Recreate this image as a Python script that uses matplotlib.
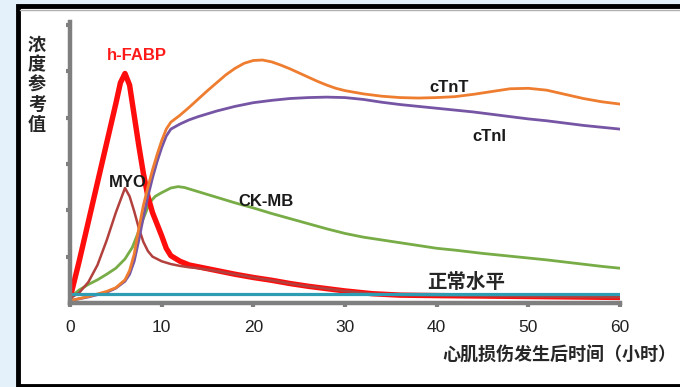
import matplotlib
matplotlib.use('Agg')
import matplotlib.pyplot as plt
from matplotlib.patches import Rectangle

plt.rcParams['font.family'] = ['Liberation Sans', 'Noto Sans CJK SC', 'DejaVu Sans']

# time in hours and relative concentration
fabp_x = [0, 1, 2, 3, 4, 5, 5.5, 6, 6.5, 7, 7.5, 8, 8.5, 9, 9.5, 10, 10.5, 11, 12, 13, 14, 16, 18, 20, 22, 24, 26, 28, 30, 33, 36, 40, 50, 60]
fabp_y = [0.1, 0.9, 1.75, 2.6, 3.45, 4.3, 4.75, 4.95, 4.7, 4.05, 3.4, 2.8, 2.3, 1.95, 1.7, 1.45, 1.18, 1.02, 0.9, 0.82, 0.78, 0.7, 0.62, 0.55, 0.49, 0.42, 0.36, 0.31, 0.26, 0.2, 0.17, 0.16, 0.14, 0.12]

myo_x = [0, 1, 2, 3, 4, 5, 6, 6.5, 7, 7.5, 8, 8.5, 9, 10, 11, 12, 13, 14, 16, 18, 20, 22, 24, 26, 28, 30, 33, 36, 40, 50, 60]
myo_y = [0.1, 0.22, 0.45, 0.82, 1.35, 1.95, 2.48, 2.3, 1.98, 1.62, 1.32, 1.12, 1.0, 0.9, 0.84, 0.8, 0.77, 0.75, 0.69, 0.62, 0.55, 0.49, 0.42, 0.36, 0.31, 0.26, 0.2, 0.17, 0.16, 0.14, 0.12]

ckmb_x = [0, 1, 2, 3, 4, 5, 6, 6.8, 7.5, 8, 8.7, 9.3, 10, 11, 11.8, 12.5, 14, 16, 18, 20, 22, 24, 26, 28, 30, 32, 34, 36, 38, 40, 42, 45, 48, 50, 52, 55, 58, 60]
ckmb_y = [0.12, 0.28, 0.4, 0.5, 0.62, 0.75, 0.95, 1.2, 1.55, 1.82, 2.17, 2.3, 2.38, 2.48, 2.51, 2.49, 2.4, 2.28, 2.16, 2.05, 1.93, 1.82, 1.71, 1.6, 1.5, 1.42, 1.36, 1.3, 1.24, 1.18, 1.14, 1.07, 1.01, 0.97, 0.93, 0.86, 0.79, 0.75]

ctnt_x = [0, 2, 4, 5, 6, 6.5, 7, 7.5, 8, 8.5, 9, 9.5, 10, 10.5, 11, 12, 13, 14, 15, 16, 17, 18, 19, 20, 21, 22, 23, 24, 25, 26, 27, 28, 29, 30, 32, 34, 36, 38, 40, 42, 44, 46, 48, 50, 52, 54, 56, 58, 60]
ctnt_y = [0.05, 0.14, 0.25, 0.33, 0.5, 0.7, 1.05, 1.6, 2.1, 2.5, 2.87, 3.2, 3.5, 3.75, 3.9, 4.05, 4.22, 4.4, 4.58, 4.75, 4.92, 5.06, 5.17, 5.23, 5.24, 5.2, 5.13, 5.05, 4.96, 4.87, 4.78, 4.7, 4.63, 4.58, 4.51, 4.46, 4.43, 4.42, 4.43, 4.45, 4.5, 4.56, 4.62, 4.63, 4.59, 4.5, 4.41, 4.34, 4.29]

ctni_x = [0, 2, 4, 5, 6, 6.5, 7, 7.5, 8, 8.5, 9, 9.5, 10, 10.5, 11, 12, 13, 14, 16, 18, 20, 22, 24, 26, 28, 30, 32, 34, 36, 38, 40, 42, 44, 46, 48, 50, 52, 54, 56, 58, 60]
ctni_y = [0.05, 0.13, 0.23, 0.32, 0.47, 0.62, 0.9, 1.35, 1.85, 2.3, 2.7, 3.05, 3.35, 3.6, 3.75, 3.86, 3.95, 4.02, 4.14, 4.24, 4.32, 4.37, 4.41, 4.43, 4.44, 4.43, 4.39, 4.33, 4.28, 4.24, 4.2, 4.16, 4.12, 4.07, 4.02, 3.97, 3.93, 3.88, 3.83, 3.79, 3.75]

normal_x = [0, 60]
normal_y = [0.2, 0.2]

x_ticks = [0, 10, 20, 30, 40, 50, 60]
y_ticks = [1, 2, 3, 4, 5, 6]

fig = plt.figure(figsize=(6.8, 3.87), dpi=100)
fig.patch.set_facecolor('#e4f1fb')

# white panel with black frame
W, H = 680.0, 387.0
fig.patches.append(Rectangle((17.5 / W, 1.5 / H), 700 / W, (381 - 1.5) / H,
                             transform=fig.transFigure, facecolor='white',
                             edgecolor='black', linewidth=3.5, zorder=-2))
fig.add_artist(plt.Line2D([20 / W, 1], [(387 - 9.5) / H] * 2, transform=fig.transFigure,
                          color='#b0b0b0', linewidth=1, zorder=-1))

ax = fig.add_axes([70 / W, (387 - 303) / H, 550 / W, 281 / H])
ax.set_facecolor('none')

ax.plot(ckmb_x, ckmb_y, color='#77ac46', linewidth=2.0)
ax.plot(fabp_x, fabp_y, color='#ff0d0d', linewidth=3.9, solid_joinstyle='round')
ax.plot(myo_x, myo_y, color='#b2403d', linewidth=1.8)
ax.plot(ctni_x, ctni_y, color='#7655a4', linewidth=2.0)
ax.plot(ctnt_x, ctnt_y, color='#ee7d30', linewidth=2.0)
ax.plot(normal_x, normal_y, color='#2e9cb2', linewidth=2.3)

ax.set_xlim(0, 60)
ax.set_ylim(0, 6.06)
ax.set_xticks(x_ticks)
ax.set_yticks(y_ticks)
ax.set_yticklabels([])
ax.tick_params(axis='both', colors='#7f7f7f', width=3, length=3)
ax.tick_params(axis='x', labelcolor='#222222', labelsize=12.5, pad=9)
for s in ['top', 'right']:
    ax.spines[s].set_visible(False)
for s in ['left', 'bottom']:
    ax.spines[s].set_color('#7f7f7f')
    ax.spines[s].set_linewidth(3.2)

lbl = dict(fontsize=12, fontweight='bold', color='#1a1a1a', ha='center', va='center')
ax.text(7.3, 5.34, 'h-FABP', **dict(lbl, color='#ff1a1a'))
ax.text(6.3, 2.6, 'MYO', **lbl)
ax.text(21.4, 2.19, 'CK-MB', **lbl)
ax.text(41.4, 4.64, 'cTnT', **lbl)
ax.text(45.7, 3.58, 'cTnI', **lbl)

cjk = ['Noto Sans CJK SC', 'DejaVu Sans']
ax.text(43.2, 0.45, '正常水平', fontsize=14, family=cjk, fontweight='bold',
        color='#262626', ha='center', va='center')
fig.text(676 / W, 1 - 355 / H, '心肌损伤发生后时间（小时）', fontsize=13, family=cjk,
         fontweight='bold', color='#262626', ha='right', va='center')
fig.text(37 / W, 1 - 85 / H, '浓\n度\n参\n考\n值', fontsize=13, family=cjk, fontweight='bold',
         color='#262626', ha='center', va='center', linespacing=1.05)

fig.savefig('out.png', dpi=100, facecolor=fig.get_facecolor())
